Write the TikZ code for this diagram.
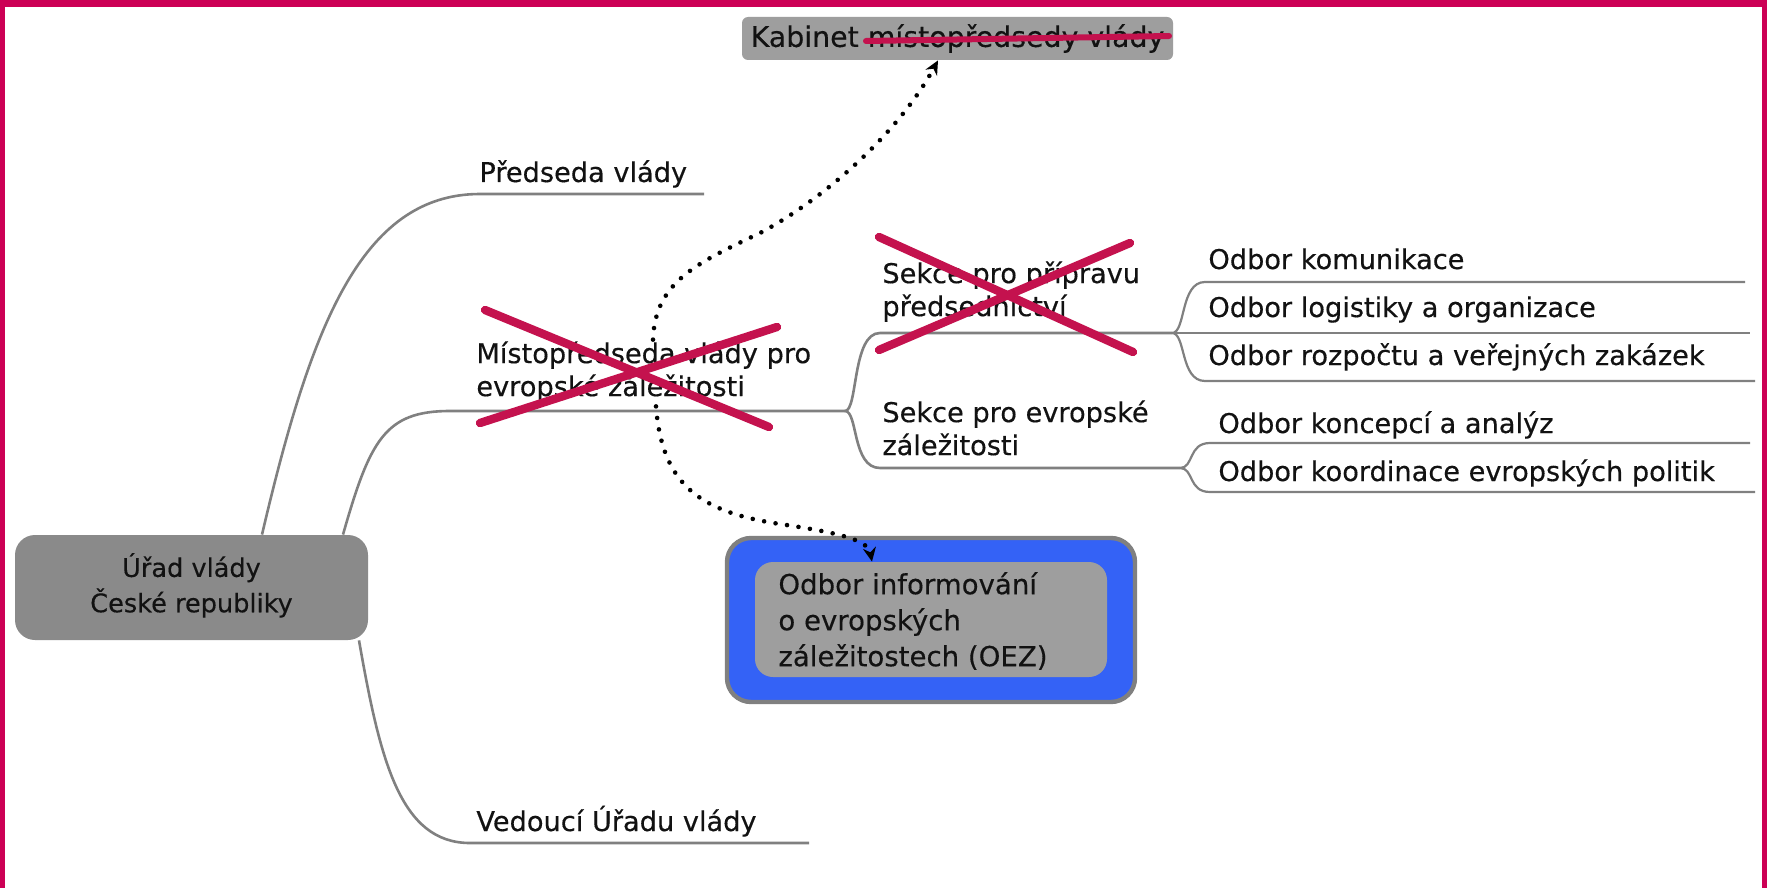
\documentclass[tikz,border=0pt]{standalone}
\usepackage{fontspec}
\setmainfont{DejaVu Sans}[FakeBold=0.35]
\usetikzlibrary{arrows.meta}
\definecolor{framered}{RGB}{204,0,85}
\definecolor{xred}{RGB}{196,18,78}
\definecolor{branch}{RGB}{128,128,128}
\definecolor{rootgray}{RGB}{138,138,138}
\definecolor{boxgray}{RGB}{158,158,158}
\definecolor{oezblue}{RGB}{52,98,246}
\definecolor{txt}{RGB}{18,18,18}
\begin{document}
\begin{tikzpicture}[x=0.5pt,y=-0.5pt,
  lbl/.style={inner sep=0pt, font=\fontsize{13.6}{16.5}\selectfont, text=txt},
  multi/.style={lbl, align=left, anchor=west},
  leaf/.style={lbl, anchor=base west},
  branchline/.style={draw=branch, line width=1.3pt},
  leafline/.style={draw=branch, line width=1.1pt},
  cross/.style={draw=xred, line width=4.2pt, line cap=round},
  linkdots/.style={line width=2.3pt, line cap=round, dash pattern=on 0pt off 5.8pt, -{Stealth[length=7pt,width=6.5pt]}}
]
\useasboundingbox (0,0) rectangle (1767,888);
\fill[white] (0,0) rectangle (1767,888);
% frame
\fill[framered] (0,0) rectangle (1767,7);
\fill[framered] (0,0) rectangle (5,888);
\fill[framered] (1762,0) rectangle (1767,888);

% root
\node[fill=rootgray, rounded corners=10pt, minimum width=176.5pt, minimum height=52.5pt,
      lbl, font=\fontsize{12.8}{16}\selectfont, align=center] (root) at (191.5,587.5) {\strut Úřad vlády\\\strut České republiky};

% top box
\node[fill=boxgray, rounded corners=3pt, minimum width=215.5pt, minimum height=21.5pt,
      inner sep=0pt, font=\fontsize{14.2}{17}\selectfont, text=txt] (kab) at (957.5,38.5) {Kabinet místopředsedy vlády};
\draw[xred, line width=3pt, line cap=round] (866,41) -- (1169,36);

% OEZ box
\node[fill=oezblue, draw=branch, line width=2.2pt, rounded corners=12pt,
      minimum width=204pt, minimum height=82pt, inner sep=0pt] (oezouter) at (931,620) {};
\node[fill=boxgray, rounded corners=9pt, minimum width=176pt, minimum height=57.5pt,
      inner sep=0pt] (oezinner) at (931,619.5) {};
\node[lbl, align=left, anchor=west, font=\fontsize{13.8}{18}\selectfont] (oez) at (778,623)
  {\strut Odbor informování\\\strut o evropských\\\strut záležitostech (OEZ)};

% labels
\node[leaf] (pred) at (479,182) {Předseda vlády};
\node[multi] (mist) at (476,373) {\strut Místopředseda vlády pro\\\strut evropské záležitosti};
\node[leaf] (ved) at (476,831) {Vedoucí Úřadu vlády};
\node[multi] (sekp) at (882,293) {\strut Sekce pro přípravu\\\strut předsednictví};
\node[multi] (seke) at (882,432) {\strut Sekce pro evropské\\\strut záležitosti};
\node[leaf] (ok) at (1208,269) {Odbor komunikace};
\node[leaf] (ol) at (1208,317) {Odbor logistiky a organizace};
\node[leaf] (or) at (1208,365) {Odbor rozpočtu a veřejných zakázek};
\node[leaf] (oka) at (1218,433) {Odbor koncepcí a analýz};
\node[leaf] (oko) at (1218,481) {Odbor koordinace evropských politik};

% coordinates
\coordinate (predEnd) at (704,194);
\coordinate (mfork) at (845,411);
\coordinate (vedEnd) at (809,843);
\coordinate (sfork1) at (1172,333);
\coordinate (sfork2) at (1180,468);
\coordinate (okEnd) at (1745,282);
\coordinate (olEnd) at (1750,333);
\coordinate (orEnd) at (1755,381);
\coordinate (okaEnd) at (1750,443);
\coordinate (okoEnd) at (1755,492);

% branches
\draw[branchline] ([xshift=35.25pt]root.north) .. controls (310,330) and (360,194) .. (480,194) -- (predEnd);
\draw[branchline] ([xshift=75.75pt]root.north) .. controls (370,440) and (385,411) .. (450,411) -- (mfork);
\draw[branchline] ([xshift=83.75pt]root.south) .. controls (380,760) and (400,843) .. (470,843) -- (vedEnd);
\draw[branchline] (mfork) .. controls (858,411) and (852,333) .. (880,333) -- (sfork1);
\draw[branchline] (mfork) .. controls (858,411) and (852,468) .. (880,468) -- (sfork2);
\draw[leafline] (sfork1) .. controls (1186,333) and (1180,282) .. (1205,282) -- (okEnd);
\draw[leafline] (sfork1) -- (olEnd);
\draw[leafline] (sfork1) .. controls (1186,333) and (1180,381) .. (1205,381) -- (orEnd);
\draw[leafline] (sfork2) .. controls (1194,468) and (1188,443) .. (1210,443) -- (okaEnd);
\draw[leafline] (sfork2) .. controls (1194,468) and (1188,492) .. (1210,492) -- (okoEnd);

% dotted links
\draw[linkdots] ([xshift=88.5pt]mist.north west) .. controls (655,280) and (700,262) .. (762,232)
   .. controls (830,195) and (900,130) .. ([xshift=-9.75pt]kab.south);
\draw[linkdots] ([xshift=90pt]mist.south west) .. controls (662,485) and (700,512) .. (780,524)
   .. controls (840,533) and (868,540) .. ([xshift=-29.5pt]oezinner.north);

% crosses
\draw[cross] (485,310) -- (769,427);
\draw[cross] (480,423) -- (777,327);
\draw[cross] (879,237) -- (1133,352);
\draw[cross] (879,350) -- (1130,243);
\end{tikzpicture}
\end{document}
